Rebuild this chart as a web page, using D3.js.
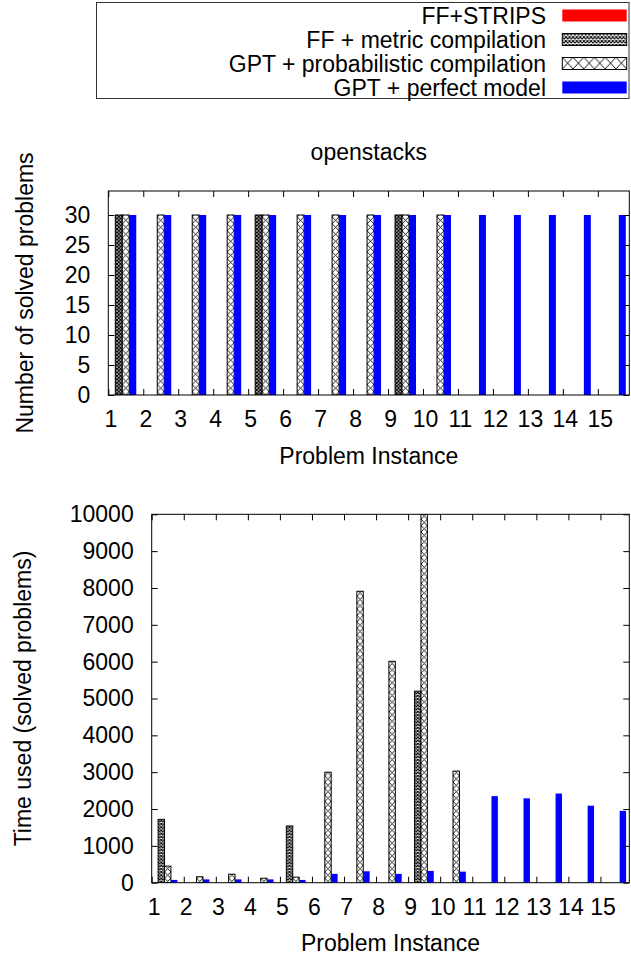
<!DOCTYPE html>
<html><head><meta charset="utf-8">
<script src="https://cdn.jsdelivr.net/npm/d3@7"></script>
<style>
body{margin:0;background:#fff;}
svg{display:block;}
text{font-family:"Liberation Sans",Arial,sans-serif;fill:#000;}
</style></head>
<body>
<script>
const instances = [1,2,3,4,5,6,7,8,9,10,11,12,13,14,15];
const seriesNames = ["FF+STRIPS","FF + metric compilation","GPT + probabilistic compilation","GPT + perfect model"];
// Number of solved problems
const solvedStrips  = [0,0,0,0,0,0,0,0,0,0,0,0,0,0,0];
const solvedMetric  = [30,0,0,0,30,0,0,0,30,0,0,0,0,0,0];
const solvedProb    = [30,30,30,30,30,30,30,30,30,30,0,0,0,0,0];
const solvedPerfect = [30,30,30,30,30,30,30,30,30,30,30,30,30,30,30];
// Time used (solved problems)
const timeStrips  = [0,0,0,0,0,0,0,0,0,0,0,0,0,0,0];
const timeMetric  = [1720,0,0,0,1540,0,0,0,5200,0,0,0,0,0,0];
const timeProb    = [450,160,230,120,150,3000,7910,6010,10000,3030,0,0,0,0,0];
const timePerfect = [75,90,90,90,75,240,310,240,320,300,2350,2290,2420,2090,1950];
const solvedTicks = [0,5,10,15,20,25,30];
const timeTicks = [0,1000,2000,3000,4000,5000,6000,7000,8000,9000,10000];
const chartTitle = "openstacks";
const xLabel = "Problem Instance";
const yLabelTop = "Number of solved problems";
const yLabelBottom = "Time used (solved problems)";

const FS = 23;
const svg = d3.select("body").append("svg").attr("width",631).attr("height",961);
const defs = svg.append("defs");

function makePatterns(id, x0, w, h){
  const p = defs.append("pattern").attr("id","prob"+id).attr("patternUnits","userSpaceOnUse")
    .attr("x",x0).attr("y",0).attr("width",w).attr("height",h);
  p.append("rect").attr("width",w).attr("height",h).attr("fill","#fff");
  p.append("path").attr("d",`M0,0L${w},${h}M0,${h}L${w},0`).attr("stroke","#000").attr("stroke-width",0.9).attr("fill","none");
  const m = defs.append("pattern").attr("id","metric"+id).attr("patternUnits","userSpaceOnUse")
    .attr("x",x0).attr("y",0).attr("width",w/2).attr("height",w/2);
  const q = w/2;
  m.append("rect").attr("width",q).attr("height",q).attr("fill","#fff");
  m.append("path").attr("d",`M0,0L${q},${q}M0,${q}L${q},0`).attr("stroke","#000").attr("stroke-width",1.1).attr("fill","none");
}

const fills = (id)=>["#ff0000","url(#metric"+id+")","url(#prob"+id+")","#0000ff"];
const strokes = ["none","#000","#000","none"];

function drawChart(cfg){
  const {id, left, right, top, bottom, ymax, yticks, series} = cfg;
  const x = d3.scaleLinear().domain([0,14.9]).range([left,right]);
  const y = d3.scaleLinear().domain([0,ymax]).range([bottom,top]);
  const bw = x(0.2)-x(0);
  makePatterns(id, x(0.4), bw, bw);
  const g = svg.append("g");
  defs.append("clipPath").attr("id","clip"+id).append("rect")
    .attr("x",left).attr("y",top).attr("width",right-left).attr("height",bottom-top);
  const bars = g.append("g").attr("clip-path","url(#clip"+id+")");
  const f = fills(id);
  series.forEach((vals,j)=>{
    bars.selectAll(null).data(instances.map((k,i)=>({k,v:vals[i]})).filter(d=>d.v>0))
      .enter().append("rect")
      .attr("x",d=>x(d.k-1+0.2*j))
      .attr("width",bw)
      .attr("y",d=>y(d.v))
      .attr("height",d=>y(0)-y(d.v))
      .attr("fill",f[j])
      .attr("stroke",strokes[j]).attr("stroke-width",1);
  });
  const tk = 6;
  const ax = d3.axisLeft(y).tickValues(yticks).tickFormat(d3.format("d")).tickSize(-tk).tickSizeOuter(0).tickPadding(18);
  const gl = g.append("g").attr("transform",`translate(${left},0)`).call(ax);
  const gr = g.append("g").attr("transform",`translate(${right},0)`).call(d3.axisRight(y).tickValues(yticks).tickSize(-tk).tickSizeOuter(0).tickFormat(""));
  const xb = d3.axisBottom(x).tickValues(instances.map(k=>k-1)).tickFormat(d=>d+1).tickSize(-tk).tickSizeOuter(0).tickPadding(16);
  const gb = g.append("g").attr("transform",`translate(0,${bottom})`).call(xb);
  const gt = g.append("g").attr("transform",`translate(0,${top})`).call(d3.axisTop(x).tickValues(instances.map(k=>k-1)).tickSize(-tk).tickSizeOuter(0).tickFormat(""));
  [gl,gr,gb,gt].forEach(a=>{
    a.select(".domain").remove();
    a.selectAll("line").attr("stroke","#000");
    a.selectAll("text").attr("font-size",FS).attr("font-family","Liberation Sans, Arial, sans-serif").attr("fill","#000");
  });
  gb.selectAll("text").attr("dx",2);
  g.append("rect").attr("x",left).attr("y",top).attr("width",right-left).attr("height",bottom-top)
    .attr("fill","none").attr("stroke","#000").attr("stroke-width",1);
  g.append("text").attr("x",(left+right)/2).attr("y",cfg.xlabelY).attr("text-anchor","middle")
    .attr("dy","0.35em").attr("font-size",FS).text(xLabel);
  g.append("text").attr("transform",`translate(${cfg.ylabelX},${(top+bottom)/2}) rotate(-90)`)
    .attr("text-anchor","middle").attr("dy","0.35em").attr("font-size",FS).text(cfg.ylabel);
}

drawChart({id:"a", left:108.3, right:629.3, top:191, bottom:395, ymax:34, yticks:solvedTicks,
  series:[solvedStrips,solvedMetric,solvedProb,solvedPerfect], xlabelY:456, ylabelX:25, ylabel:yLabelTop});
drawChart({id:"b", left:151.7, right:629.3, top:514.3, bottom:882.7, ymax:10000, yticks:timeTicks,
  series:[timeStrips,timeMetric,timeProb,timePerfect], xlabelY:943, ylabelX:23, ylabel:yLabelBottom});

svg.append("text").attr("x",368.8).attr("y",152).attr("text-anchor","middle").attr("dy","0.35em")
  .attr("font-size",FS).text(chartTitle);

// Legend
const lg = svg.append("g");
lg.append("rect").attr("x",96.5).attr("y",2.5).attr("width",532.5).attr("height",96)
  .attr("fill","#fff").attr("stroke","#333").attr("stroke-width",1);
const lp = defs.append("pattern").attr("id","probL").attr("patternUnits","userSpaceOnUse")
  .attr("x",562.3).attr("y",57.3).attr("width",64.4/6).attr("height",11.7);
lp.append("rect").attr("width",64.4/6).attr("height",11.7).attr("fill","#fff");
lp.append("path").attr("d",`M0,0L${64.4/6},11.7M0,11.7L${64.4/6},0`).attr("stroke","#000").attr("stroke-width",0.9);
const lm = defs.append("pattern").attr("id","metricL").attr("patternUnits","userSpaceOnUse")
  .attr("x",562.3).attr("y",33.3).attr("width",3.6).attr("height",3.9);
lm.append("rect").attr("width",3.6).attr("height",3.9).attr("fill","#fff");
lm.append("path").attr("d","M0,0L3.6,3.9M0,3.9L3.6,0").attr("stroke","#000").attr("stroke-width",1.1);
const legFills = ["#ff0000","url(#metricL)","url(#probL)","#0000ff"];
const rowY = d3.scaleLinear().domain([0,3]).range([15.5,87.5]);
seriesNames.forEach((name,j)=>{
  lg.append("text").attr("x",546).attr("y",rowY(j)).attr("dy","0.35em").attr("text-anchor","end")
    .attr("font-size",FS).text(name);
  lg.append("rect").attr("x",562.3).attr("y",rowY(j)-6).attr("width",64.4).attr("height",12)
    .attr("fill",legFills[j]).attr("stroke",strokes[j]).attr("stroke-width",1);
});
</script>
</body></html>
